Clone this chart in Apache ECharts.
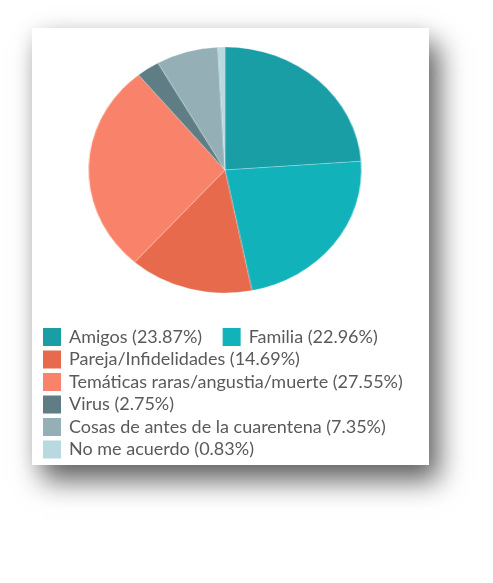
<!DOCTYPE html>
<html>
<head>
<meta charset="utf-8">
<script src="https://cdn.jsdelivr.net/npm/echarts@6/dist/echarts.min.js"></script>
<style>
  html, body { margin: 0; padding: 0; background: #fff; }
  body { width: 493px; height: 583px; position: relative; overflow: hidden; }
  #card {
    position: absolute; left: 32px; top: 28px; width: 397px; height: 437px;
    background: #fff;
    box-shadow: 10px 16px 26px rgba(0,0,0,0.6), 0 0 18px rgba(0,0,0,0.08);
    overflow: hidden;
  }
  #main {
    position: absolute; left: 0; top: 0; width: 358px; height: 290px;
    transform: scaleX(1.109); transform-origin: 0 0;
  }
  #leyenda {
    position: absolute; left: 0; top: 0; width: 397px; height: 437px;
  }
</style>
</head>
<body>
<div id="card"><div id="main"></div><div id="leyenda"></div></div>
<script>
// categorías y porcentajes
var names = ['Amigos', 'Familia', 'Pareja/Infidelidades', 'Temáticas raras/angustia/muerte',
  'Virus', 'Cosas de antes de la cuarentena', 'No me acuerdo'];
var values = [23.87, 22.96, 14.69, 27.55, 2.75, 7.35, 0.83];
var colors = ['#199ea6', '#12b2bb', '#e66a4b', '#f8836a', '#5e7d85', '#94b0b6', '#b7d9df'];

var brower = [];
for (var i = 0; i < names.length; i++) {
  brower.push({ name: names[i], value: values[i] });
}

// la torta (estirada en horizontal como en la imagen)
var myChart = echarts.init(document.getElementById('main'));
myChart.setOption({
  animation: false,
  color: colors,
  series: [
    {
      type: 'pie',
      radius: 123,
      center: [174, 142],
      startAngle: 90,
      clockwise: true,
      data: brower,
      label: { show: false },
      labelLine: { show: false },
      itemStyle: { borderColor: 'rgba(255,255,255,0.4)', borderWidth: 0.6 },
      emphasis: { disabled: true }
    }
  ]
});

// la leyenda, sin estirar
var legendChart = echarts.init(document.getElementById('leyenda'));
legendChart.setOption({
  animation: false,
  color: colors,
  legend: {
    orient: 'horizontal',
    left: 11,
    top: 300,
    width: 372,
    padding: 0,
    itemWidth: 18,
    itemHeight: 18,
    itemGap: 4.5,
    icon: 'rect',
    selectedMode: false,
    textStyle: {
      fontFamily: 'Lato',
      fontSize: 18,
      color: '#5a5a5a',
      lineHeight: 18,
      rich: {
        p: { width: 3, lineHeight: 18 },
        t: { fontFamily: 'Lato', fontSize: 18, color: '#5a5a5a', lineHeight: 18 },
        s: { width: 16, lineHeight: 18 }
      }
    },
    formatter: function (name) {
      var v = values[names.indexOf(name)];
      return '{p|}{t|' + name + ' (' + v.toFixed(2) + '%)}{s|}';
    },
    data: names
  },
  series: [
    {
      type: 'pie',
      radius: [0, 0],
      center: [-50, -50],
      data: brower,
      silent: true,
      label: { show: false },
      labelLine: { show: false },
      itemStyle: { borderWidth: 0 }
    }
  ]
});
</script>
</body>
</html>
